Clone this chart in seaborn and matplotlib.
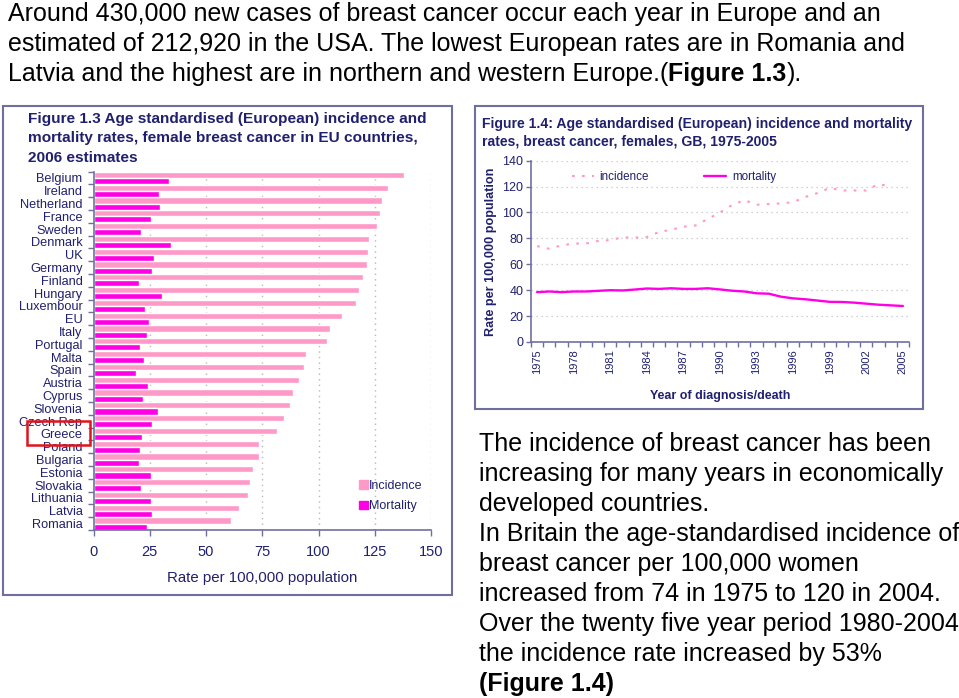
import matplotlib
matplotlib.use("Agg")
import matplotlib.pyplot as plt
import pandas as pd
import seaborn as sns
from matplotlib.lines import Line2D
from matplotlib.patches import Patch, Rectangle

countries = ["Belgium", "Ireland", "Netherland", "France", "Sweden", "Denmark", "UK", "Germany",
             "Finland", "Hungary", "Luxembour", "EU", "Italy", "Portugal", "Malta", "Spain",
             "Austria", "Cyprus", "Slovenia", "Czech Rep", "Greece", "Poland", "Bulgaria",
             "Estonia", "Slovakia", "Lithuania", "Latvia", "Romania"]
country_incidence = [137.8, 131, 128.2, 127.3, 125.8, 122.4, 121.8, 121.4, 119.9, 118.1, 116.7, 110.4,
                     105, 103.6, 94.4, 93.7, 91.5, 88.5, 87.5, 84.8, 81.5, 73.7, 73.7, 71, 69.6,
                     68.5, 64.5, 61]
country_mortality = [33.4, 29.3, 29.6, 25.6, 21.1, 34.3, 27, 26.1, 20.2, 30.3, 22.9, 24.8, 23.6, 20.8,
                     22.4, 18.9, 24.4, 21.9, 28.5, 26.1, 21.5, 20.8, 20.4, 25.6, 21.1, 25.6, 26.1, 23.6]

incidence_years = list(range(1975, 2005))
gb_incidence = [74, 72, 74.6, 76, 76, 78, 78.7, 80.8, 80.6, 81, 85, 86.7, 89, 90, 95, 100, 105.8,
                109.6, 106, 106.5, 107, 108, 112, 115, 119, 117, 117, 117, 122, 120]
mortality_years = list(range(1975, 2006))
gb_mortality = [38.5, 39, 38.5, 39, 39, 39.5, 40, 39.8, 40.5, 41.3, 41, 41.5, 41, 41, 41.5, 40.6, 39.6,
                39, 37.6, 37.3, 35, 33.7, 33, 32, 31, 30.9, 30.4, 29.6, 28.8, 28.3, 27.8]

rate_ticks = [0, 25, 50, 75, 100, 125, 150]
gb_ticks = [0, 20, 40, 60, 80, 100, 120, 140]
year_labels = [1975, 1978, 1981, 1984, 1987, 1990, 1993, 1996, 1999, 2002, 2005]

W, H = 959, 698
NAVY = "#20206e"
AXIS = "#6f6f9f"
PINK = "#ff99c8"
MAGENTA = "#ff00e6"
BODY_SIZE = 18
DASHES = (0, (1.3, 3.5))

sns.set_theme(style="white")
plt.rcParams["font.family"] = ["Liberation Sans", "DejaVu Sans"]

fig = plt.figure(figsize=(W / 100, H / 100), dpi=100)


def axes_px(left, top, right, bottom):
    return fig.add_axes([left / W, 1 - bottom / H, (right - left) / W, (bottom - top) / H])


def put(x, y, s, **kw):
    kw.setdefault("va", "center")
    return fig.text(x / W, 1 - y / H, s, **kw)


def put_runs(x, y, runs, size):
    # runs of normal and bold text on one line
    r = fig.canvas.get_renderer()
    for s, weight in runs:
        t = put(x, y, s, fontsize=size, fontweight=weight, color="black")
        x = t.get_window_extent(r).x1


def panel(left, top, right, bottom):
    fig.add_artist(Rectangle((left / W, 1 - bottom / H), (right - left) / W, (bottom - top) / H,
                             transform=fig.transFigure, fill=False, edgecolor=AXIS, linewidth=1.5))


def style_axis(ax):
    sns.despine(ax=ax)
    for side in ["left", "bottom"]:
        ax.spines[side].set_color(AXIS)
        ax.spines[side].set_linewidth(1.2)


# text around the charts
top_lines = ["Around 430,000 new cases of breast cancer occur each year in Europe and an",
             "estimated of 212,920 in the USA. The lowest European rates are in Romania and"]
for i, line in enumerate(top_lines):
    put(8, 14 + 30 * i, line, fontsize=BODY_SIZE, color="black")
put_runs(8, 74, [("Latvia and the highest are in northern and western Europe.(", "normal"),
                 ("Figure 1.3", "bold"), (").", "normal")], BODY_SIZE)

body_lines = ["The incidence of breast cancer has been",
              "increasing for many years in economically",
              "developed countries.",
              "In Britain the age-standardised incidence of",
              "breast cancer per 100,000 women",
              "increased from 74 in 1975 to 120 in 2004.",
              "Over the twenty five year period 1980-2004",
              "the incidence rate increased by 53%"]
for i, line in enumerate(body_lines):
    put(479, 444 + 30 * i, line, fontsize=BODY_SIZE, color="black")
put_runs(479, 684, [("(Figure 1.4)", "bold")], BODY_SIZE)

panel(3, 106, 452, 595)
panel(475, 106, 923, 409)

# Figure 1.3
put(28, 119, "Figure 1.3 Age standardised (European) incidence and", fontsize=11.1, fontweight="bold", color=NAVY)
put(28, 138, "mortality rates, female breast cancer in EU countries,", fontsize=11.1, fontweight="bold", color=NAVY)
put(28, 158, "2006 estimates", fontsize=11.1, fontweight="bold", color=NAVY)

ax1 = axes_px(93.5, 171.5, 431, 530)
bars = pd.DataFrame({"country": countries * 2,
                     "rate": country_incidence + country_mortality,
                     "kind": ["Incidence"] * len(countries) + ["Mortality"] * len(countries)})
sns.barplot(data=bars, x="rate", y="country", hue="kind", palette=[PINK, MAGENTA], order=countries,
            width=0.96, dodge=True, saturation=1, legend=False, ax=ax1)
ax1.set_xlim(0, 150)
ax1.set_ylim(len(countries) - 0.5, -0.5)
ax1.set_xticks(rate_ticks)
ax1.set_xlabel("Rate per 100,000 population", fontsize=10.8, color=NAVY)
ax1.xaxis.set_label_coords(0.5, -0.115)
ax1.set_ylabel("")
ax1.set_yticks(range(len(countries)), countries)
ax1.set_yticks([i - 0.5 for i in range(len(countries) + 1)], minor=True)
ax1.tick_params(axis="y", which="major", length=0, pad=8, labelsize=9.2, labelcolor=NAVY)
ax1.tick_params(axis="y", which="minor", length=4, width=1, color=AXIS, left=True)
ax1.tick_params(axis="x", length=4, width=1, color=AXIS, bottom=True, pad=7, labelsize=10.5, labelcolor=NAVY)
ax1.xaxis.grid(True, linestyle=(0, (1, 3)), color="#b8b8b8", linewidth=1)
ax1.set_axisbelow(True)
style_axis(ax1)
ax1.legend(handles=[Patch(color=PINK, label="Incidence"), Patch(color=MAGENTA, label="Mortality")],
           loc="lower left", bbox_to_anchor=(0.769, 0.032), frameon=False, fontsize=9, labelcolor=NAVY,
           handlelength=0.7, handleheight=0.7, handletextpad=0.1, labelspacing=0.65, borderpad=0)

fig.add_artist(Rectangle((27 / W, 1 - 445 / H), 63 / W, 24 / H, transform=fig.transFigure,
                         fill=False, edgecolor="#e0141c", linewidth=1.8))

# Figure 1.4
put(482, 124, "Figure 1.4: Age standardised (European) incidence and mortality", fontsize=10.1, fontweight="bold", color=NAVY)
put(482, 142, "rates, breast cancer, females, GB, 1975-2005", fontsize=10.1, fontweight="bold", color=NAVY)

ax2 = axes_px(531, 160.7, 909, 342)
sns.lineplot(x=incidence_years, y=gb_incidence, color=PINK, linewidth=1.5, linestyle=DASHES, ax=ax2)
sns.lineplot(x=mortality_years, y=gb_mortality, color=MAGENTA, linewidth=1.7, ax=ax2)
ax2.set_xlim(1974.5, 2005.5)
ax2.set_ylim(0, 140)
ax2.set_yticks(gb_ticks)
ax2.set_xticks(year_labels)
ax2.set_xticklabels(year_labels, rotation=90)
ax2.set_xticks([y - 0.5 for y in mortality_years] + [2005.5], minor=True)
ax2.tick_params(axis="x", which="major", length=0, pad=5, labelsize=8, labelcolor=NAVY)
ax2.tick_params(axis="x", which="minor", length=3.5, width=1, color=AXIS, bottom=True)
ax2.tick_params(axis="y", length=3.5, width=1, color=AXIS, left=True, pad=2, labelsize=9, labelcolor=NAVY)
ax2.set_xlabel("Year of diagnosis/death", fontsize=9, fontweight="bold", color=NAVY)
ax2.xaxis.set_label_coords(0.5, -0.265)
ax2.set_ylabel("Rate per 100,000 population", fontsize=9.1, fontweight="bold", color=NAVY)
ax2.yaxis.set_label_coords(-0.089, 0.5)
ax2.yaxis.grid(True, linestyle=(0, (1, 3)), color="#c4c4c4", linewidth=0.9)
ax2.set_axisbelow(True)
style_axis(ax2)
ax2.legend(handles=[Line2D([], [], color=PINK, linewidth=1.5, linestyle=DASHES, label="incidence"),
                    Line2D([], [], color=MAGENTA, linewidth=1.7, label="mortality")],
           loc="center left", bbox_to_anchor=(0.092, 0.909), ncol=2, frameon=False, fontsize=8.4,
           labelcolor=NAVY, handlelength=1.9, handletextpad=0.5, columnspacing=4.7, borderpad=0)

fig.savefig("out.png", dpi=100)
